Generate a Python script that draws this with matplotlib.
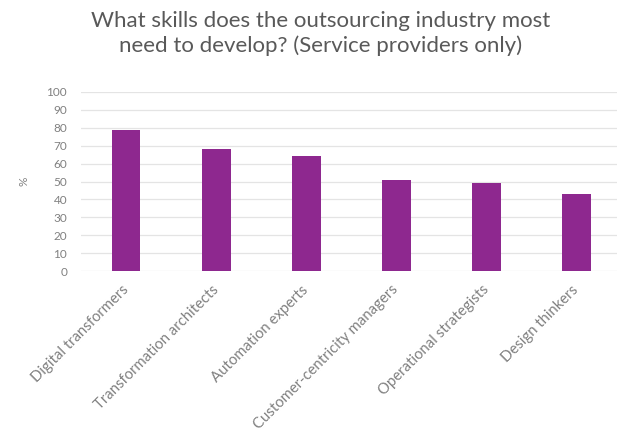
import matplotlib.pyplot as plt

# chart data
skills = ["Digital transformers", "Transformation architects", "Automation experts",
          "Customer-centricity managers", "Operational strategists", "Design thinkers"]
pct = [79, 68, 64, 51, 49, 43]
yticks = list(range(0, 101, 10))

plt.rcParams['font.family'] = ['Lato', 'DejaVu Sans']

fig = plt.figure(figsize=(6.22, 4.37), dpi=100)
ax = fig.add_axes([81 / 622, 1 - 271 / 437, 536 / 622, 179 / 437])

ax.bar(range(len(skills)), pct, width=0.32, color='#8e288f', zorder=3)

ax.set_xlim(-0.5, len(skills) - 0.55)
ax.set_ylim(0, 100)
ax.set_yticks(yticks)
ax.set_xticks(range(len(skills)))
ax.set_xticklabels(skills, rotation=45, ha='right', va='center', rotation_mode='anchor',
                   fontsize=10.7, color='#808080')
ax.tick_params(axis='y', labelsize=8.5, labelcolor='#808080', length=0, pad=10)
ax.tick_params(axis='x', length=0, pad=12)
ax.grid(axis='y', color='#e4e4e4', linewidth=0.9, zorder=0)
for s in ax.spines.values():
    s.set_visible(False)
ax.set_ylabel('%', fontsize=8.5, color='#808080', labelpad=12)

fig.text(0.515, 0.975, "What skills does the outsourcing industry most\nneed to develop? (Service providers only)",
         ha='center', va='top', fontsize=16, color='#595959', linespacing=1.3)

fig.savefig('out.png', dpi=100)
